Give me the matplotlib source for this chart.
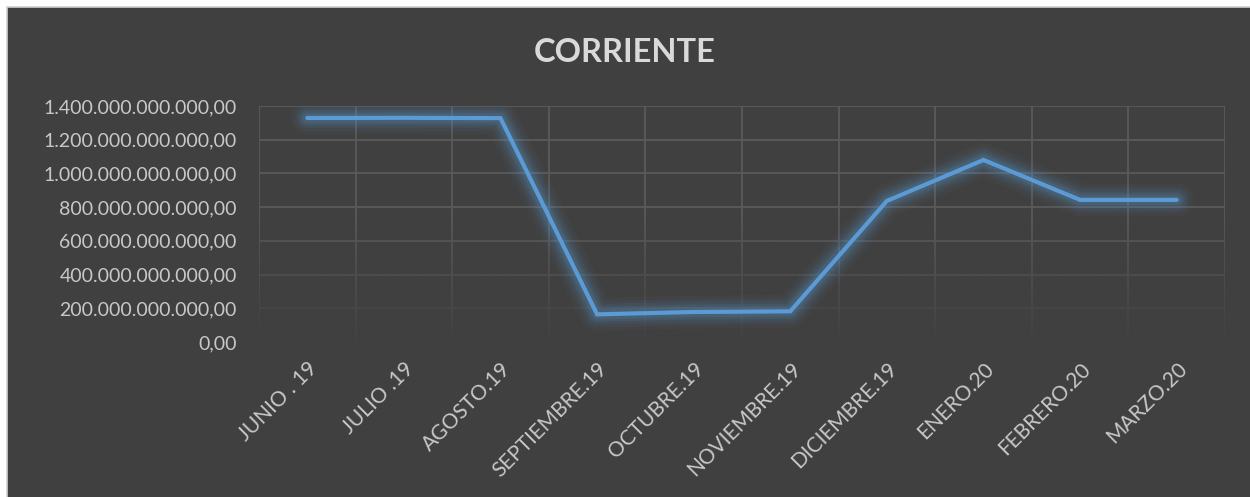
import matplotlib
matplotlib.use("Agg")
import matplotlib.pyplot as plt
import numpy as np
from matplotlib.ticker import FuncFormatter, MultipleLocator
from matplotlib.patches import Rectangle

categories = ["JUNIO . 19", "JULIO .19", "AGOSTO.19", "SEPTIEMBRE.19", "OCTUBRE.19",
              "NOVIEMBRE.19", "DICIEMBRE.19", "ENERO.20", "FEBRERO.20", "MARZO.20"]
values = [1329e9, 1330e9, 1328e9, 164e9, 178e9, 182e9, 837e9, 1080e9, 843e9, 843e9]
title = "CORRIENTE"

BG = "#404040"
TXT = "#d9d9d9"
LINE = "#5b9bd5"
GRID = "#5a5a5a"

plt.rcParams['font.family'] = ['Lato', 'DejaVu Sans']

fig = plt.figure(figsize=(12.5, 4.97), dpi=100, facecolor="white")
# dark chart area with light border
fig.patches.append(Rectangle((6.5/1250, -0.01), 1 - 6.5/1250 + 0.01, 1 - 6.5/497 + 0.01, transform=fig.transFigure,
                             facecolor=BG, edgecolor="#d0d0d0", linewidth=1.2, zorder=-5))

ax = fig.add_axes([259/1250, 1 - 342/497, (1225 - 259)/1250, (342 - 106)/497])
ax.set_zorder(2)
ax.patch.set_alpha(0)

x = np.arange(len(categories))
ax.set_xlim(-0.5, len(categories) - 0.5)
ax.set_ylim(0, 1.4e12)
ax.yaxis.set_major_locator(MultipleLocator(200e9))

def fmt(v, pos):
    s = f"{v:,.2f}"
    return s.replace(",", "X").replace(".", ",").replace("X", ".")
ax.yaxis.set_major_formatter(FuncFormatter(fmt))

# grid
for yv in np.arange(0, 1.4e12 + 1, 200e9):
    ax.axhline(yv, color=GRID, lw=1.3, zorder=1)
for xv in np.arange(-0.5, len(categories), 1.0):
    ax.axvline(xv, color=GRID, lw=1.3, zorder=1)

# fade overlay at bottom of grid
bgc = matplotlib.colors.to_rgb(BG)
grad = np.zeros((100, 2, 4))
grad[..., 0], grad[..., 1], grad[..., 2] = bgc
grad[..., 3] = np.clip((0.55 - np.linspace(0, 1, 100)[:, None]) / 0.55, 0, 1) * 0.95
ax.imshow(grad, extent=(-0.5, len(categories) - 0.5, 0, 1.4e12), origin="lower",
          aspect="auto", zorder=2, interpolation="bilinear")

# glow
for lw, al in [(24, 0.04), (19, 0.06), (15, 0.08), (11, 0.11), (7.5, 0.15)]:
    ax.plot(x, values, color=LINE, lw=lw, alpha=al, solid_capstyle="round",
            solid_joinstyle="round", zorder=3)
ax.plot(x, values, color=LINE, lw=3, solid_capstyle="round", solid_joinstyle="miter", zorder=4)

for s in ax.spines.values():
    s.set_visible(False)
ax.tick_params(axis="both", length=0, colors="#c8c8c8")
ax.tick_params(axis="y", pad=16, labelsize=14)
ax.tick_params(axis="x", pad=12, labelsize=15)
ax.set_xticks(x)
ax.set_xticklabels(categories, rotation=45, ha="right", rotation_mode="anchor")

fig.text(0.5, 1 - 52/497, title, ha="center", va="center", fontsize=23.5, fontweight="bold", color=TXT)

fig.savefig("out.png", dpi=100, facecolor="white")
